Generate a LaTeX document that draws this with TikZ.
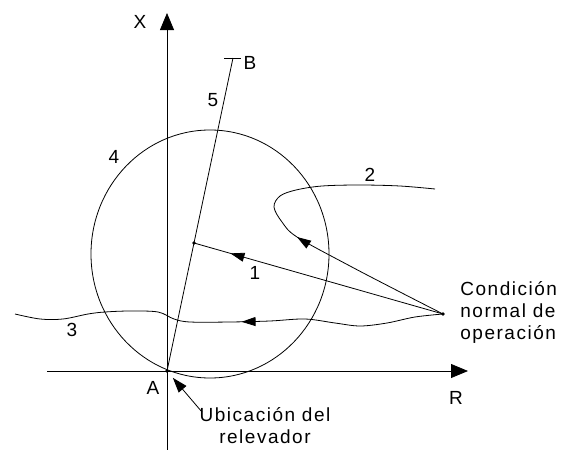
\documentclass[tikz,border=0pt]{standalone}
\usepackage{fontspec}
\newfontfamily\lbl[LetterSpace=8]{Liberation Sans}
\usetikzlibrary{arrows.meta,calc,decorations.markings}

\begin{document}
\begin{tikzpicture}[
  x=1pt, y=-1pt,
  font=\fontsize{19pt}{22pt}\lbl,
  line width=0.8pt,
  axisline/.style={-{Triangle[length=17pt,width=14pt]}},
  flow/.style={postaction={decorate}, decoration={markings, mark=at position #1 with {\arrow{Triangle[length=14pt,width=9pt]}}}},
  tagtext/.style={inner sep=0pt}
]
\useasboundingbox (0,0) rectangle (566,450);

% ejes
\coordinate (A) at (167,371);
\coordinate (Xbot) at (167,450);
\coordinate (Xtop) at (167,13);
\coordinate (Rleft) at (47,371);
\coordinate (Rright) at (468,371);
\draw[axisline] (Xbot) -- (Xtop);
\draw[axisline] (Rleft) -- (Rright);
\node[tagtext] (lblX) at (140,22) {X};
\node[tagtext] (lblR) at (456,398) {R};
\node[tagtext] (lblA) at (153,388) {A};

% circulo 4
\draw (210,254) ellipse [x radius=119pt, y radius=124pt];
\node[tagtext] (lbl4) at (114,157) {4};

% linea AB
\coordinate (B) at (233,58);
\draw (A) -- (B);
\draw ([xshift=-9pt]B) -- ([xshift=8pt]B);
\node[tagtext] (lblB) at (250,63) {B};
\node[tagtext] (lbl5) at (213,100) {5};

\coordinate (P) at ($(A)!0.409!(B)$);
\coordinate (N) at (443,314);

% trayectorias 1, 2, 3
\draw[flow=221pt] (N) -- (P);
\node[tagtext] (lbl1) at (255,273) {1};
\draw[flow=165pt] plot[smooth, tension=0.55] coordinates {(N) (400,292) (350,266) (297,237) (282,222) (274,207) (280,196) (296,190) (322,186) (360,185) (400,186) (435,189)};
\node[tagtext] (lbl2) at (370,175) {2};
\draw[flow=203pt] plot[smooth, tension=0.55] coordinates {(N) (415,317) (387,323) (360,326) (335,323) (305,319) (270,321) (230,322) (190,322) (174,319) (158,312) (130,311) (105,312) (88,314) (63,319) (40,319) (15,314)};
\node[tagtext] (lbl3) at (72,330) {3};

\fill (A) circle (1.8pt);
\fill (P) circle (1.8pt);
\fill (N) circle (1.8pt);

% textos
\node[tagtext, anchor=base west, align=left] (cond) at (460,339) {Condición\\normal de\\operación};
\node[tagtext, anchor=base, align=center] (ubic) at (265,443) {Ubicación del\\relevador};
\coordinate (U) at (202,412);
\draw[-{Triangle[length=15pt,width=10pt]}, shorten >=9pt] (U) -- (A);
\end{tikzpicture}
\end{document}
